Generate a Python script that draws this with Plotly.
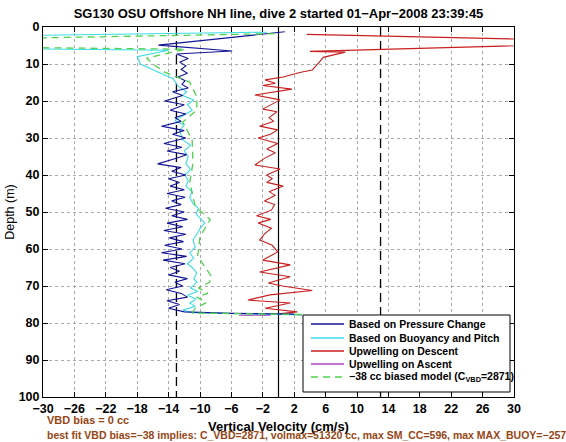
import plotly.graph_objects as go

# ---------------- data ----------------
blue_vel = [0.8, -15.3, -5.9, -13.0, -11.5, -12.6, -11.8, -12.4, -11.6, -12.8, -11.9, -12.3, -11.5, -13.5, -12.2,
            -14.5, -12.0, -13.8, -11.8, -13.2, -12.4, -14.9, -12.0, -13.5, -11.8, -14.6, -12.3, -14.2, -11.7, -13.0,
            -15.4, -12.4, -13.6, -11.8, -14.0, -12.6, -13.8, -12.0, -14.2, -11.9, -13.6, -12.4, -14.4, -12.0, -13.6,
            -11.6, -14.2, -12.2, -14.6, -11.8, -13.9, -12.1, -14.5, -12.3, -14.9, -11.7, -14.7, -11.9, -13.8, -12.6,
            -14.0, -11.6, -13.2, -12.2, -14.3, -12.4, -11.6, -14.2, -12.6, -14.0, -12.0, -6.0, 2.0]
blue_depth = [1.3, 4.9, 6.5, 7.3, 8.5, 9.5, 10.5, 11.5, 12.5, 13.5, 14.5, 15.5, 16.5, 17.5, 18.5,
              20, 21, 22.5, 23.5, 24.5, 25.5, 26.8, 28, 29, 30, 31.5, 32.5, 33.5, 34.5, 35.5,
              37, 38, 39, 40, 41, 42, 43, 44, 45, 46, 47, 48, 49, 50, 51,
              52, 53, 54, 55, 56, 57, 58, 59, 60, 61, 62, 63, 64, 65, 66,
              67, 68, 69, 70, 71, 72, 73, 74, 75, 76, 77, 77.4, 77.6]

cyan_vel = [-1.5, -40, -40, -14.0, -18.0, -17.6, -15.5, -13.4, -12.8, -11.7, -12.2, -10.8, -11.6, -11.0, -12.2,
            -13.2, -12.0, -12.6, -12.2, -11.2, -12.0, -11.5, -11.8, -11.2, -11.9, -11.5, -11.8, -11.0, -11.3, -10.9,
            -10.2, -10.5, -9.4, -10.0, -10.4, -10.9, -10.6, -11.3, -10.8, -11.6, -11.0, -10.4, -10.8, -10.4, -11.2,
            -10.3, -11.6, -10.5, -11.3, -10.6, -12.2, -11.0, 3.0]
cyan_depth = [1.4, 2.5, 5.7, 6.3, 8.0, 10, 12, 14, 16, 17.5, 18.5, 19.7, 21, 22.5, 24,
              25.3, 26.5, 28, 30.5, 32, 33.5, 35, 37, 38.5, 40, 41.5, 43, 44.5, 46, 47.7,
              49, 50.5, 53, 54.5, 56, 57.5, 59.5, 61, 62.5, 64, 65, 66.5, 68, 69, 70.5,
              71.5, 72.5, 73.5, 74.6, 75.5, 76.5, 77.2, 77.8]

red_vel = [3.6, 40, 40, 4.0, 8.5, 5.7, 5.2, 4.3, 2.7, 0.6, -1.7, -0.4, -2.0, 1.7, -3.0, 0.2, -2.0, -0.2,
           -1.2, -0.6, -2.4, -0.1, -1.0, -2.6, -0.1, -1.5, -0.4, -1.8, -3.0, 0.2, -1.5, -0.8, -1.5, 0.6,
           -1.2, -0.4, -1.8, -0.5, -0.9, -2.8, -1.0, -2.6, -0.9, -1.8, -2.4, -0.8, -0.1, -2.0, 1.5, -2.4,
           1.5, -1.3, 0.5, 4.3, -1.1, -3.9, 1.5, -1.7, 2.4, 0.0, 3.0]
red_depth = [2.0, 3.7, 4.5, 6.6, 6.8, 8.2, 9.5, 11.6, 12.3, 13.5, 14.3, 15.2, 15.8, 16.8, 18.4, 19.7, 22.2, 22.9,
             24.5, 25.5, 26.8, 27.8, 29, 30, 31.5, 33, 34, 35.5, 37.3, 38.4, 40, 41, 42, 43,
             44.5, 45.5, 47, 48, 49.5, 51, 52, 53, 54.4, 56, 57.6, 59, 60.8, 63, 64.3, 66.2,
             67.5, 69.2, 70, 71.2, 72.4, 73.8, 74.6, 76, 77, 77.5, 77.8]

purple_vel = [-5.0, -1.0]
purple_depth = [77.9, 77.9]

green_vel = [-0.5, -40, -40, -11.9, -16.8, -16.0, -14.5, -11.3, -10.4, -10.4, -12.2, -11.0, -10.9, -11.3, -10.6,
             -8.7, -10.0, -10.3, -8.5, -8.8, -10.2, -9.0, -10.4, -9.2, -10.6, -11.0, 3.2]
green_depth = [1.8, 3.3, 5.4, 6.0, 8.4, 10, 12.2, 14.9, 18.9, 22.4, 25.7, 30.5, 36.8, 42, 48.6,
               52, 56.7, 62, 67.5, 69, 70.5, 72, 73, 74.5, 76, 77.3, 77.7]

series_names = ["Based on Pressure Change", "Based on Buoyancy and Pitch", "Upwelling on Descent",
                "Upwelling on Ascent", "\u221238 cc biased model (C<sub>VBD</sub>=2871)"]

ref_dashed = [-13, 13]
ref_solid = [0]
depth_range = [100, 0]

x_ticks = [-30, -26, -22, -18, -14, -10, -6, -2, 2, 6, 10, 14, 18, 22, 26, 30]
y_ticks = [0, 10, 20, 30, 40, 50, 60, 70, 80, 90, 100]

title_text = "SG130 OSU Offshore NH line, dive 2 started 01\u2212Apr\u22122008 23:39:45"
note1 = "VBD bias = 0 cc"
note2 = "best fit VBD bias=\u221238 implies: C_VBD=2871, volmax=51320 cc, max SM_CC=596, max MAX_BUOY=\u2212257"

# ---------------- styles ----------------
FONT = "Liberation Sans, Arial, Helvetica, sans-serif"
C_BLUE = "rgb(20,20,150)"
C_CYAN = "rgb(60,220,230)"
C_RED = "rgb(200,30,30)"
C_PURPLE = "rgb(170,70,190)"
C_GREEN = "rgb(80,210,80)"
GREEN_DASH = "7px,5px"

W, H = 566, 442
L, R, T, B = 43, 514, 27, 397  # plot-area pixel box


def px(xp):
    return (xp - L) / (R - L)


def py(yp):
    return 1 - (yp - T) / (B - T)


fig = go.Figure()

for xv in ref_dashed:
    fig.add_trace(go.Scatter(x=[xv, xv], y=[depth_range[1], depth_range[0]], mode="lines",
                             line=dict(color="black", width=1.3, dash="9px,5px"),
                             showlegend=False, hoverinfo="skip"))
for xv in ref_solid:
    fig.add_trace(go.Scatter(x=[xv, xv], y=[depth_range[1], depth_range[0]], mode="lines",
                             line=dict(color="black", width=1.2),
                             showlegend=False, hoverinfo="skip"))

fig.add_trace(go.Scatter(x=red_vel, y=red_depth, mode="lines", name=series_names[2],
                         line=dict(color=C_RED, width=1.1), showlegend=False))
fig.add_trace(go.Scatter(x=purple_vel, y=purple_depth, mode="lines", name=series_names[3],
                         line=dict(color=C_PURPLE, width=1.1), showlegend=False))
fig.add_trace(go.Scatter(x=cyan_vel, y=cyan_depth, mode="lines", name=series_names[1],
                         line=dict(color=C_CYAN, width=1.1), showlegend=False))
fig.add_trace(go.Scatter(x=blue_vel, y=blue_depth, mode="lines", name=series_names[0],
                         line=dict(color=C_BLUE, width=1.1), showlegend=False))
fig.add_trace(go.Scatter(x=green_vel, y=green_depth, mode="lines", name=series_names[4],
                         line=dict(color=C_GREEN, width=1.3, dash=GREEN_DASH), showlegend=False))

fig.update_layout(
    width=W, height=H,
    margin=dict(l=L, r=W - R, t=T, b=H - B, autoexpand=False),
    paper_bgcolor="white", plot_bgcolor="white",
    font=dict(family=FONT, color="black"),
    title=dict(text=title_text, x=0.5, xref="paper", y=1 - 13 / H, yanchor="middle",
               font=dict(size=13, weight="bold", family=FONT)),
    showlegend=False,
)

fig.update_xaxes(range=[-30, 30], tickvals=x_ticks, ticktext=[str(v).replace("-", "\u2212") for v in x_ticks],
                 automargin=False,
                 showgrid=True, gridcolor="rgb(170,170,170)", griddash="dot", gridwidth=1,
                 zeroline=False, showline=True, linecolor="black", linewidth=1, mirror="allticks",
                 ticks="inside", ticklen=5, tickcolor="black",
                 tickfont=dict(size=12.5, weight="bold", family=FONT),
                 title=dict(text="Vertical Velocity (cm/s)", standoff=6,
                            font=dict(size=13, weight="bold", family=FONT)))
fig.update_yaxes(range=depth_range, tickvals=y_ticks, automargin=False,
                 showgrid=True, gridcolor="rgb(170,170,170)", griddash="dot", gridwidth=1,
                 zeroline=False, showline=True, linecolor="black", linewidth=1, mirror="allticks",
                 ticks="inside", ticklen=5, tickcolor="black",
                 tickfont=dict(size=12.5, weight="bold", family=FONT),
                 title=dict(text="Depth (m)", standoff=1, font=dict(size=12.5, family=FONT)))

# ---------------- legend (drawn by hand, MATLAB-style compact box) ----------------
leg_box = (303, 315, 510, 392)
fig.add_shape(type="rect", xref="paper", yref="paper",
              x0=px(leg_box[0]), x1=px(leg_box[2]), y0=py(leg_box[3]), y1=py(leg_box[1]),
              line=dict(color="black", width=1), fillcolor="white", layer="above")
leg_rows = [324, 338, 351, 364, 377]
leg_styles = [(C_BLUE, "solid", 1.3), (C_CYAN, "solid", 1.6), (C_RED, "solid", 1.3),
              (C_PURPLE, "solid", 1.6), (C_GREEN, GREEN_DASH, 1.6)]
for name, yr, (col, dash, wd) in zip(series_names, leg_rows, leg_styles):
    fig.add_shape(type="line", xref="paper", yref="paper",
                  x0=px(311), x1=px(344), y0=py(yr), y1=py(yr),
                  line=dict(color=col, width=wd, dash=dash), layer="above")
    fig.add_annotation(text=name, xref="paper", yref="paper", x=px(347), y=py(yr),
                       xanchor="left", yanchor="middle", showarrow=False,
                       font=dict(size=10.5, weight="bold", family=FONT))

brown = "rgb(150,70,20)"
fig.add_annotation(text=note1, xref="paper", yref="paper", x=px(45), y=py(420),
                   xanchor="left", yanchor="middle", showarrow=False,
                   font=dict(size=11, weight="bold", color=brown, family=FONT))
fig.add_annotation(text=note2, xref="paper", yref="paper", x=px(45), y=py(435),
                   xanchor="left", yanchor="middle", showarrow=False,
                   font=dict(size=10.5, weight="bold", color=brown, family=FONT))

fig.write_html("out.html", config={"displayModeBar": False},
               post_script="document.body.style.margin='0';")
